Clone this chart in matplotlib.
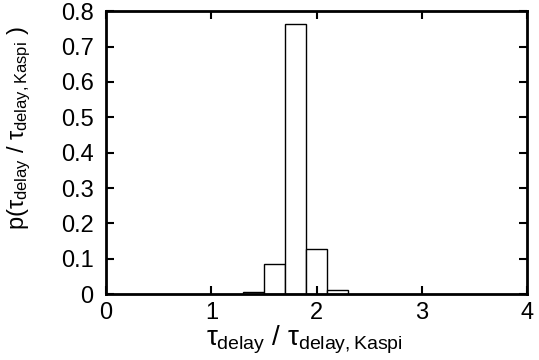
import numpy as np
import matplotlib
matplotlib.use("Agg")
import matplotlib.pyplot as plt

# histogram bins (left edges) and probabilities
bin_left = [1.3, 1.5, 1.7, 1.9, 2.1]
bin_width = 0.2
prob = [0.005, 0.085, 0.765, 0.128, 0.012]

xticks = [0, 1, 2, 3, 4]
yticks = [0, 0.1, 0.2, 0.3, 0.4, 0.5, 0.6, 0.7, 0.8]
yticklabels = ['0', '0.1', '0.2', '0.3', '0.4', '0.5', '0.6', '0.7', '0.8']

plt.rcParams['font.family'] = ['Liberation Sans', 'DejaVu Sans']
plt.rcParams['mathtext.fontset'] = 'custom'
plt.rcParams['mathtext.rm'] = 'Liberation Sans'
plt.rcParams['mathtext.it'] = 'Liberation Sans'

fig = plt.figure(figsize=(5.39, 3.6), dpi=100)
ax = fig.add_axes([0.197, 0.183, 0.781, 0.786])

ax.bar(bin_left, prob, width=bin_width, align='edge',
       facecolor='white', edgecolor='black', linewidth=1.0)

ax.set_xlim(0, 4)
ax.set_ylim(0, 0.8)
ax.set_xticks(xticks)
ax.set_xticklabels([str(v) for v in xticks])
ax.set_yticks(yticks)
ax.set_yticklabels(yticklabels)

ax.tick_params(direction='in', length=6, width=1.5, top=True, right=True,
               labelsize=17)
ax.tick_params(axis='x', pad=6)
ax.tick_params(axis='y', pad=9)
for s in ax.spines.values():
    s.set_linewidth(2)

ax.set_xlabel(r'$\tau_{\rm delay}$ / $\tau_{\rm delay,Kaspi}$', fontsize=20)
ax.xaxis.set_label_coords(0.47, -0.103)
ax.set_ylabel(r'p($\tau_{\rm delay}$ / $\tau_{\rm delay,Kaspi}$ )', fontsize=17)
ax.yaxis.set_label_coords(-0.173, 0.587)

fig.savefig("out.png", dpi=100)
